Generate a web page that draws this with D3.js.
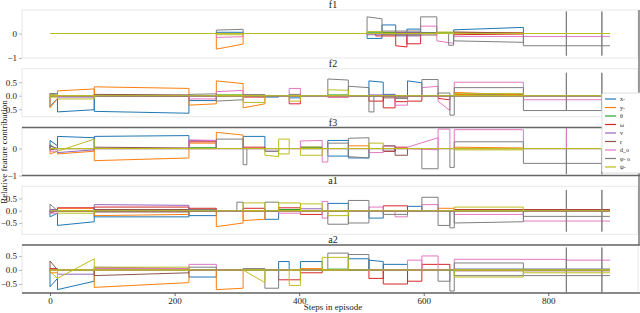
<!DOCTYPE html>
<html>
<head>
<meta charset="utf-8">
<script src="https://cdn.jsdelivr.net/npm/d3@7"></script>
<style>
  body { margin: 0; background: #fff; }
  text { font-family: "Liberation Serif", "DejaVu Serif", serif; fill: #222; }
</style>
</head>
<body>
<script>
const width = 640;
const height = 313;

const seriesNames = ["x-", "y-", "θ", "ω", "v", "r", "d_o", "φ- o", "ψ-"];
const panelTitles = ["f1", "f2", "f3", "a1", "a2"];
const xTicks = [0, 200, 400, 600, 800];
const lastStep = 899;
const panelDomains = [[-1.0, 0.96], [-0.78, 1.0], [-1.0, 0.78], [-0.96, 1.0], [-0.82, 0.89]];
const panelTicks = [[0, -1], [0.5, 0, -0.5], [0, -1], [0.5, 0, -0.5], [0.5, 0, -0.5]];

// each segment: [stepStart, stepEnd, upperStart, upperEnd, lowerStart, lowerEnd]
const f1Data = [
  [[267,310,0.05,0.05,0,0],[509,533,0,0,-0.2,-0.2],[533,555,0.35,0.35,0,0],[573,595,0.18,0.18,0,0],[648,760,0.15,0.25,0,0]],
  [[267,310,0,0,-0.64,-0.43],[535,555,0.05,0.05,-0.05,-0.05],[648,760,0.05,0.03,0,0]],
  [[509,648,0.03,0.03,0,0]],
  [[523,555,0,0,-0.1,-0.1],[555,573,0,0,-0.5,-0.55],[573,595,0,0,-0.42,-0.42],[648,760,0,0,-0.05,-0.02]],
  [[509,535,0,0,-0.05,-0.05],[555,595,0.05,0.05,-0.1,-0.1]],
  [[555,621,0.02,0.02,-0.06,-0.06],[648,760,0.06,0.02,0,0]],
  [[267,310,0,0,-0.16,-0.13],[595,621,0.3,0.3,0,0],[621,648,0,0,-0.3,-0.4],[648,899,0,0,-0.12,-0.12]],
  [[267,310,0.14,0.17,0,0],[509,533,0.68,0.6,0,0],[533,595,0.1,0.1,-0.05,-0.05],[595,621,0.68,0.68,0,0],[640,648,0,0,-0.48,-0.48],[648,760,0,0,-0.3,-0.36],[760,899,0,0,-0.5,-0.5],[829,829,0.9,0.9,-0.9,-0.9],[886,886,0.9,0.9,-0.9,-0.9]],
  [[267,310,0,0,-0.05,-0.05],[509,533,0.08,0.08,0,0],[621,648,0.06,0.06,0,0]]
];

const f2Data = [
  [[0,12,0,0,-0.4,-0.1],[12,71,0,0,-0.6,-0.52],[71,223,0,0,-0.58,-0.65],[223,267,0,0,-0.18,-0.18],[345,367,0,0,-0.05,-0.05],[384,402,0,0,-0.08,-0.08],[512,535,0.55,0.5,0,0],[535,554,0.05,0.05,0,0],[574,597,0.55,0.48,0,0],[649,760,0.05,0.05,0,0]],
  [[0,12,0,0,-0.45,-0.1],[12,71,0.18,0.25,0,0],[71,223,0.33,0.27,0,0],[223,267,0,0,-0.35,-0.3],[267,310,0.55,0.45,0,0],[310,345,0,0,-0.45,-0.3],[649,760,0.12,0.03,0.05,0]],
  [[267,310,0.03,0.03,0,0],[446,479,0.03,0.03,0,0]],
  [[310,345,0,0,-0.05,-0.05],[384,402,0,0,-0.3,-0.3],[446,479,0,0,-0.05,-0.05],[512,535,0,0,-0.2,-0.2],[535,554,0,0,-0.45,-0.45],[554,574,0,0,-0.22,-0.22],[574,597,0,0,-0.2,-0.2],[623,642,0,0,-0.1,-0.15]],
  [[12,71,0,0,-0.05,-0.05],[512,554,0.03,0.03,0,0]],
  [[0,12,0.08,0,0,0],[71,223,0.05,0.03,0,-0.02],[310,345,0.02,0.02,0,0],[535,574,0,0,-0.08,-0.08]],
  [[223,267,0,0,-0.12,-0.12],[267,310,0.15,0.2,0,0],[384,402,0.27,0.27,0,0],[446,479,0,0,-0.05,-0.05],[554,574,0,0,-0.35,-0.35],[597,623,0.3,0.35,0,0],[623,642,0,0,-0.2,-0.55],[649,760,0.5,0.5,0,0],[760,899,0,0,-0.15,-0.15]],
  [[0,12,0.08,0.08,0,0],[223,267,0.05,0.07,0,0],[267,310,0,0,-0.2,-0.15],[310,345,0.04,0.04,0,0],[384,402,0.05,0.05,0,0],[446,479,0.62,0.58,0,0],[479,512,0.35,0.3,0,0],[512,520,0,0,-0.6,-0.6],[554,574,0,0,-0.1,-0.1],[597,623,0.6,0.6,0,0],[623,642,0.1,0.1,0,0],[642,649,0,0,-0.72,-0.72],[649,760,0.3,0.3,0,0],[760,899,0,0,-0.55,-0.55],[829,829,0.85,0.85,-0.55,-0.55],[886,886,0.85,0.85,-0.55,-0.55]],
  [[0,12,0.03,0.03,-0.05,-0.05],[12,71,0,0,-0.12,-0.12],[267,310,0.02,0.02,0,0],[310,345,0,0,-0.25,-0.25],[384,402,0,0,-0.2,-0.2],[446,479,0.22,0.2,0,0],[649,760,0.08,0.08,0,0]]
];

const f3Data = [
  [[0,12,0.3,0.1,0,0],[12,71,0.45,0.4,0,0],[71,223,0.45,0.48,0,0],[310,345,0.45,0.45,0,0],[446,479,0.3,0.3,-0.28,-0.28],[479,512,0,0,-0.35,-0.35],[535,554,0,0,-0.1,-0.1]],
  [[0,12,0,0,-0.2,-0.1],[12,71,0,0,-0.2,-0.1],[71,223,0,0,-0.45,-0.35],[223,267,0.2,0.2,0,0],[267,310,0.6,0.5,0,0],[402,437,0.05,0.05,0,0],[479,512,0.1,0.1,0,0],[649,760,0.05,0.02,0,0]],
  [[223,267,0.03,0.03,0,0],[402,437,0.05,0.05,0,0]],
  [[223,267,0.25,0.25,0,0],[310,345,0.05,0.05,0,0],[535,554,0.1,0.1,-0.1,-0.1],[554,574,0.05,0.05,0,0]],
  [[12,71,0,0,-0.15,-0.05],[223,267,0.3,0.3,0,0],[345,367,0,0,-0.1,-0.1]],
  [[0,12,0.1,0,-0.05,0],[71,223,0.05,0.02,0,0],[554,574,0,0,-0.25,-0.25]],
  [[0,12,0,0,-0.1,-0.1],[223,267,0.32,0.3,0,0],[402,437,0.28,0.3,0,0],[437,446,0,0,-0.5,-0.5],[512,535,0,0,-0.15,-0.15],[535,554,0.1,0.1,0,0],[574,623,0.05,0.4,0,-0.05],[623,642,0.72,0.72,0,0],[649,760,0.7,0.7,0,0],[829,829,0.75,0.75,0,0]],
  [[0,12,0.15,-0.05,0,0],[267,310,0.35,0.35,0,0],[310,316,0,0,-0.6,-0.6],[345,367,0,0,-0.1,-0.1],[446,479,0.2,0.2,0,0],[479,512,0.38,0.4,-0.3,-0.35],[535,554,0.1,0.1,0,0],[597,623,0,0,-0.75,-0.75],[642,649,0,0,-0.7,-0.7],[649,760,0.25,0.25,0,0],[760,899,0,0,-0.55,-0.55],[829,829,0,0,-0.95,-0.95],[886,886,0,0,-0.95,-0.95]],
  [[12,71,-0.1,0.35,0,0],[345,367,0,0,-0.25,-0.3],[367,384,0.35,0.35,-0.2,-0.2],[402,437,0,0,-0.25,-0.25],[512,535,0.2,0.2,0,0],[649,760,0,0,-0.05,-0.05]]
];

const a1Data = [
  [[0,12,0,0,-0.25,-0.1],[12,71,0,0,-0.6,-0.45],[71,223,0,0,-0.25,-0.25],[223,267,0,0,-0.2,-0.2],[345,367,0,0,-0.35,-0.35],[446,479,0.3,0.3,0,0],[512,535,0,0,-0.3,-0.3],[574,597,0.18,0.18,0,0]],
  [[12,71,0.1,0.1,0,0],[71,223,0,0,-0.2,-0.15],[267,310,0,0,-0.65,-0.5],[310,345,0,0,-0.4,-0.35],[623,649,0.1,0.1,0,0]],
  [[71,223,0.03,0.03,0,0],[367,402,0.05,0.05,0,0]],
  [[12,71,0.12,0.12,0,0],[71,223,0.15,0.15,0,0],[223,267,0.1,0.1,0,0],[310,345,0.1,0.1,0,0],[367,402,0.12,0.12,0,0],[402,437,0,0,-0.15,-0.15],[535,574,0.2,0.2,0,0],[649,899,0.05,0.05,0,0]],
  [[0,12,0.05,0.05,0,0],[71,223,0.25,0.22,0,0],[402,437,0.08,0.08,0,0]],
  [[0,12,0,0,-0.1,0],[71,223,0.05,0.05,-0.05,-0.05],[649,899,0.03,0.03,0,0]],
  [[0,12,0,0,-0.1,-0.1],[367,402,0,0,-0.1,-0.1],[437,446,0.38,0.38,-0.3,-0.3],[512,535,0.15,0.15,0,0],[554,574,0,0,-0.25,-0.25],[597,623,0.25,0.25,0,0],[649,760,0,0,-0.15,-0.15],[760,899,0,0,-0.42,-0.42]],
  [[0,12,0.27,0,0,0],[223,267,0.05,0.05,0,0],[300,310,0.35,0.35,0,0],[345,367,0.35,0.35,0,0],[446,479,0,0,-0.55,-0.55],[479,512,0.42,0.42,-0.5,-0.5],[535,574,0,0,-0.15,-0.15],[597,623,0.55,0.55,0,0],[623,642,0,0,-0.6,-0.6],[642,649,0,0,-0.7,-0.7],[649,760,0,0,-0.5,-0.45],[760,899,0,0,-0.23,-0.23],[829,829,0.85,0.85,-0.85,-0.85],[886,886,0.85,0.85,-0.85,-0.85]],
  [[12,71,0,0,-0.1,-0.1],[310,345,0.32,0.32,0,0],[367,402,0.32,0.32,0,0],[402,437,0.28,0.28,0,0],[446,479,0,0,-0.2,-0.2],[649,760,0.15,0.15,0,0]]
];

const a2Data = [
  [[0,12,0,0,-0.6,-0.3],[12,71,0,0,-0.7,-0.4],[223,267,0,0,-0.25,-0.25],[367,384,0.3,0.3,0,0],[402,437,0.3,0.3,0,0],[479,512,0.4,0.4,0,0],[512,535,0.35,0.3,0,0],[535,574,0.2,0.2,0,0],[649,899,0.03,0.03,0,0]],
  [[0,12,0,0,-0.1,-0.1],[71,223,0,0,-0.62,-0.45],[267,310,0,0,-0.7,-0.65],[402,437,0.05,0.05,0,0]],
  [[71,223,0.03,0.03,0,0],[446,479,0.03,0.03,0,0]],
  [[0,12,0.05,0.05,0,0],[367,402,0,0,-0.35,-0.35],[402,437,0,0,-0.1,-0.1],[512,535,0,0,-0.3,-0.3],[535,574,0,0,-0.5,-0.5],[574,597,0,0,-0.4,-0.4],[597,642,0.2,0.2,0,0],[649,899,0.02,0.02,0,0]],
  [[12,71,0,0,-0.15,-0.15],[71,223,0.1,0.05,0,0]],
  [[0,12,0.32,0,0,0],[71,223,0.05,0,-0.2,-0.1],[649,899,0,0,-0.03,-0.03]],
  [[71,223,0.05,0.05,0,0],[223,267,0.2,0.2,0,0],[574,597,0.35,0.35,0,0],[597,623,0.5,0.5,0,0],[649,829,0.38,0.38,0,0],[829,899,0.35,0.35,0,0]],
  [[223,267,0.1,0.1,0,0],[310,345,0.05,0.05,0,0],[345,367,0,0,-0.65,-0.65],[446,479,0.6,0.6,0,0],[479,512,0.55,0.55,0,0],[623,642,0,0,-0.4,-0.4],[642,649,0,0,-0.75,-0.75],[649,760,0.25,0.25,-0.2,-0.2],[760,899,0,0,-0.2,-0.2],[829,829,0.8,0.8,-0.8,-0.8],[886,886,0.8,0.8,-0.8,-0.8]],
  [[0,12,0,0,-0.05,-0.3],[12,71,-0.3,0.4,0,0],[71,223,0.1,0.1,0,0],[310,345,0,0,0,-0.45],[384,402,0,0,-0.55,-0.55],[437,479,0.45,0.45,0,0],[649,760,0,0,-0.25,-0.25],[760,899,0,0,-0.1,-0.1]]
];

const panels = [f1Data, f2Data, f3Data, a1Data, a2Data];
const colors = d3.schemeCategory10.slice(0, 9);

const left = 22, right = 638;
const panelTop0 = 10, panelStep = 58.75, panelH = 48;

const x = d3.scaleLinear().domain([-45, 944]).range([left, right]);

const svg = d3.select("body").append("svg")
  .attr("width", width)
  .attr("height", height);

const line = d3.line();

panels.forEach((data, i) => {
  const top = panelTop0 + i * panelStep;
  const y = d3.scaleLinear().domain(panelDomains[i]).range([top + panelH, top]);
  const g = svg.append("g");

  g.append("clipPath").attr("id", "clip" + i)
    .append("rect").attr("x", left).attr("y", top).attr("width", right - left).attr("height", panelH);

  g.append("rect")
    .attr("x", left).attr("y", top)
    .attr("width", right - left).attr("height", panelH)
    .attr("fill", "none").attr("stroke", "#e8e8e8").attr("stroke-width", 1);

  const lines = g.append("g").attr("clip-path", `url(#clip${i})`);

  data.forEach((segs, s) => {
    const pts = [];
    // baseline
    pts.push([[0, 0], [lastStep, 0]]);
    segs.forEach(([x0, x1, t0, t1, b0, b1]) => {
      if (x1 === lastStep) pts.push([[x1, b1], [x0, b0], [x0, t0], [x1, t1]]);
      else pts.push([[x0, b0], [x0, t0], [x1, t1], [x1, b1], [x0, b0]]);
    });
    lines.append("path")
      .attr("d", pts.map(p => line(p.map(d => [x(d[0]), y(d[1])]))).join(""))
      .attr("fill", "none")
      .attr("stroke", colors[s])
      .attr("stroke-width", 1)
      .attr("stroke-linejoin", "miter");
  });

  // dark borders on f3 and a2
  if (i === 2 || i === 4) {
    [top, top + panelH].forEach(yy => {
      g.append("line").attr("x1", left).attr("x2", width).attr("y1", yy).attr("y2", yy)
        .attr("stroke", "#666").attr("stroke-width", 1.3);
    });
  }

  const fmt = i === 0 || i === 2 ? d3.format("d") : d3.format(".1f");
  const yAxis = d3.axisLeft(y).tickValues(panelTicks[i]).tickSize(3).tickPadding(2).tickFormat(fmt);
  const ax = g.append("g").attr("transform", `translate(${left},0)`).call(yAxis);
  ax.select(".domain").remove();
  ax.selectAll(".tick line").attr("stroke", "#bbb");
  ax.selectAll(".tick text").attr("font-size", 9).attr("fill", "#222")
    .style("font-family", "'Liberation Serif', serif");

  g.append("text")
    .attr("x", 333).attr("y", top - 2)
    .attr("text-anchor", "middle")
    .attr("font-size", 10)
    .text(panelTitles[i]);
});

// right edge line
svg.append("line").attr("x1", 639).attr("x2", 639).attr("y1", 10).attr("y2", 245)
  .attr("stroke", "#666").attr("stroke-width", 1.3);

// x axis
const xAxis = d3.axisBottom(x).tickValues(xTicks).tickSize(3).tickPadding(2);
const xg = svg.append("g").attr("transform", `translate(0,${panelTop0 + 4 * panelStep + panelH})`).call(xAxis);
xg.select(".domain").remove();
xg.selectAll(".tick line").attr("stroke", "#666");
xg.selectAll(".tick text").attr("font-size", 9).attr("fill", "#222")
  .style("font-family", "'Liberation Serif', serif");

svg.append("text")
  .attr("x", 333).attr("y", 310)
  .attr("text-anchor", "middle")
  .attr("font-size", 9)
  .text("Steps in episode");

svg.append("text")
  .attr("transform", "translate(7,152) rotate(-90)")
  .attr("text-anchor", "middle")
  .attr("font-size", 9)
  .text("Relative feature contribution");

// legend
const legend = svg.append("g");
legend.append("rect")
  .attr("x", 602).attr("y", 93).attr("width", 42).attr("height", 80)
  .attr("fill", "#fff").attr("stroke", "#ddd").attr("rx", 2);
seriesNames.forEach((name, k) => {
  const yy = 99 + k * 8.5;
  legend.append("line").attr("x1", 605).attr("x2", 616).attr("y1", yy).attr("y2", yy)
    .attr("stroke", colors[k]).attr("stroke-width", 1.2);
  legend.append("text").attr("x", 620).attr("y", yy + 2)
    .attr("font-size", 6).text(name);
});
</script>
</body>
</html>
